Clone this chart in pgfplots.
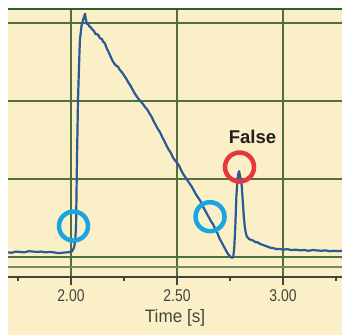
\documentclass[border=0pt]{standalone}
\usepackage{pgfplots}
\pgfplotsset{compat=1.18}
\usepackage{fontspec}
\setmainfont{Liberation Sans}
\newfontfamily\tickfont[FakeStretch=0.82]{Liberation Sans}
\newfontfamily\labfont[FakeStretch=0.95]{Liberation Sans}
\definecolor{cream}{HTML}{FAEFC6}
\definecolor{gridgreen}{HTML}{536E3E}
\definecolor{topgreen}{HTML}{2F5F2F}
\definecolor{axisgrey}{HTML}{45453C}
\definecolor{trace}{HTML}{2A5B96}
\definecolor{cyanc}{HTML}{18A6E2}
\definecolor{redc}{HTML}{E8373C}
\definecolor{txt}{HTML}{231F20}
\begin{document}
\begin{tikzpicture}
\useasboundingbox (0,0) rectangle (342bp,335bp);
\fill[white] (0,0) rectangle (342bp,335bp);
\fill[cream] (8bp,0) rectangle (342bp,326bp);
\begin{axis}[
  at={(8bp,58bp)}, anchor=south west,
  scale only axis, width=334bp, height=268bp,
  xmin=1.703, xmax=3.278, ymin=-0.256, ymax=3.18,
  axis line style={draw=none},
  xtick={2,2.5,3}, xticklabels={2.00,2.50,3.00},
  minor xtick={1.75,2.25,2.75,3.25},
  ytick={0,1,2,3}, yticklabels={},
  y tick style={draw=none},
  xtick pos=left,
  tick align=outside,
  major tick length=8bp, minor tick length=4bp,
  x tick style={draw=axisgrey, line width=1.8bp},
  grid=major,
  major grid style={draw=gridgreen, line width=1.6bp},
  extra y ticks={-0.128}, extra y tick labels={},
  extra y tick style={grid=major, major grid style={draw=gridgreen!80, line width=1.2bp}, tick style={draw=none}},
  xticklabel style={font=\tickfont\fontsize{17bp}{17bp}\selectfont, text=axisgrey, yshift=-1bp},
  xlabel={Time [s]},
  xlabel style={font=\labfont\fontsize{18bp}{18bp}\selectfont, text=axisgrey, at={(axis description cs:0.5,0)}, anchor=base, yshift=-45bp},
  clip=false,
]
\draw[topgreen, line width=2bp] (rel axis cs:0,1) -- (rel axis cs:1,1);
\draw[axisgrey, line width=2bp] (rel axis cs:0,0) -- (rel axis cs:1,0);
\addplot[trace, line width=2.2bp, line join=round] coordinates {
(1.703,0.06) (1.72,0.055) (1.74,0.07) (1.76,0.065) (1.78,0.06) (1.80,0.075) (1.82,0.07) (1.84,0.065) (1.86,0.07) (1.88,0.06) (1.90,0.065) (1.92,0.06) (1.94,0.05) (1.96,0.055) (1.98,0.06) (2.00,0.065) (2.008,0.085) (2.015,0.13) (2.020,0.22)
(2.024,0.40) (2.028,1.20) (2.033,2.00) (2.038,2.46) (2.042,2.78) (2.050,2.97) (2.057,3.04) (2.062,3.08) (2.066,3.12) (2.070,3.05) (2.075,2.99) (2.080,3.00) (2.085,2.96) (2.092,2.95) (2.10,2.92) (2.108,2.90) (2.115,2.86) (2.122,2.86) (2.13,2.84) (2.138,2.80) (2.145,2.80) (2.152,2.76) (2.16,2.74) (2.168,2.68) (2.175,2.64) (2.182,2.60) (2.19,2.55) (2.195,2.52) (2.20,2.50) (2.207,2.47) (2.215,2.45) (2.222,2.44) (2.23,2.40) (2.24,2.37) (2.25,2.33) (2.26,2.29) (2.27,2.24) (2.28,2.20) (2.29,2.15) (2.30,2.10) (2.31,2.06) (2.32,2.02) (2.33,1.99) (2.34,1.96) (2.35,1.92) (2.36,1.89) (2.37,1.84) (2.38,1.80) (2.39,1.74) (2.40,1.69) (2.41,1.64) (2.42,1.60) (2.43,1.54) (2.44,1.49) (2.45,1.43) (2.46,1.38) (2.47,1.34) (2.48,1.28) (2.49,1.24) (2.50,1.21) (2.51,1.17) (2.52,1.11) (2.53,1.06) (2.54,1.02) (2.55,0.98) (2.56,0.94) (2.57,0.90) (2.58,0.85) (2.59,0.80) (2.60,0.76) (2.61,0.72) (2.62,0.66) (2.63,0.61) (2.64,0.56) (2.65,0.51) (2.66,0.46) (2.67,0.42) (2.68,0.36) (2.69,0.31) (2.70,0.24) (2.71,0.19) (2.72,0.14) (2.73,0.09) (2.74,0.04) (2.75,0.01) (2.758,-0.01) (2.765,0.0)
(2.770,0.12) (2.775,0.40) (2.780,0.78) (2.785,1.00) (2.790,1.08) (2.793,1.10) (2.797,1.04) (2.80,1.00) (2.805,0.92) (2.81,0.72) (2.815,0.52) (2.82,0.38) (2.825,0.30) (2.83,0.26) (2.84,0.23) (2.85,0.22) (2.86,0.21) (2.87,0.19) (2.88,0.19) (2.89,0.17) (2.90,0.16) (2.91,0.15) (2.92,0.14) (2.93,0.13) (2.94,0.12) (2.95,0.115) (2.96,0.11) (2.97,0.10) (2.98,0.105) (2.99,0.10) (3.00,0.095) (3.02,0.10) (3.04,0.09) (3.06,0.095) (3.08,0.085) (3.10,0.09) (3.12,0.08) (3.14,0.09) (3.16,0.085) (3.18,0.08) (3.20,0.085) (3.22,0.075) (3.24,0.08) (3.26,0.075) (3.278,0.08)
};
\addplot[only marks, mark=o, mark size=14.5bp, mark options={draw=cyanc, line width=4.5bp}] coordinates {(2.0118,0.397) (2.6557,0.517)};
\addplot[only marks, mark=o, mark size=14.5bp, mark options={draw=redc, line width=4.5bp}] coordinates {(2.7948,1.154)};
\node[anchor=base, text=txt, font=\bfseries\fontsize{18.5bp}{18.5bp}\selectfont, inner sep=0pt] at (axis cs:2.856,1.458) {False};
\end{axis}
\end{tikzpicture}
\end{document}
